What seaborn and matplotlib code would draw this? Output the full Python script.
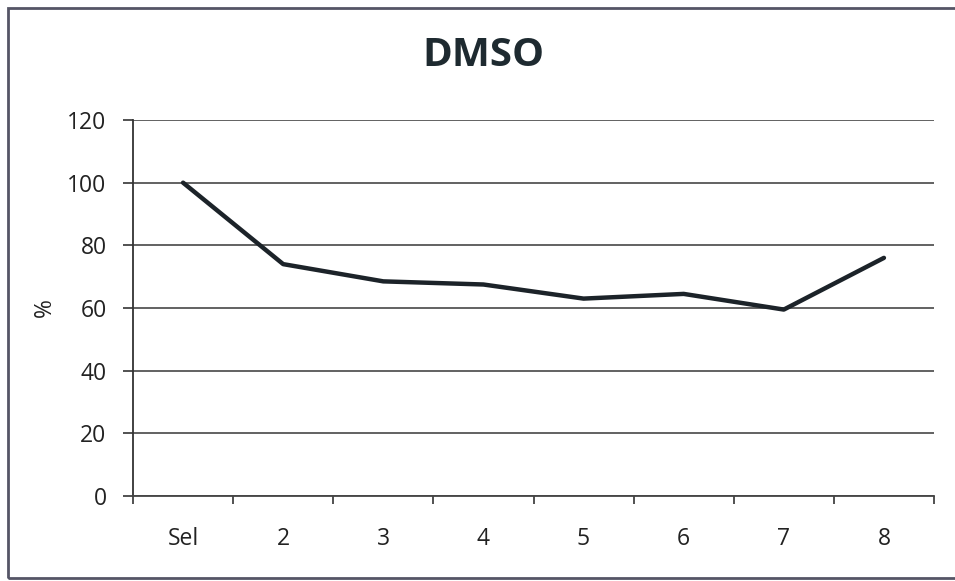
import matplotlib
matplotlib.use("Agg")
import matplotlib.pyplot as plt
import seaborn as sns
import pandas as pd
from matplotlib.patches import Rectangle
from matplotlib.ticker import FixedLocator

categories = ["Sel", "2", "3", "4", "5", "6", "7", "8"]
values = [100, 74, 68.5, 67.5, 63, 64.5, 59.5, 76]
yticks = [0, 20, 40, 60, 80, 100, 120]

sns.set_theme(style="white")
plt.rcParams['font.family'] = ['Open Sans', 'DejaVu Sans']

df = pd.DataFrame({"cat": categories, "val": values})

fig = plt.figure(figsize=(9.55, 5.81), dpi=100)
ax = fig.add_axes([133/955, 1-496/581, 801/955, 376/581])

sns.lineplot(data=df, x="cat", y="val", sort=False, ax=ax,
             color="#1c2329", linewidth=3.2)

ax.set_xlim(-0.5, len(categories) - 0.5)
ax.set_ylim(0, 120)
ax.set_yticks(yticks)
ax.set_yticklabels([str(v) for v in yticks], fontsize=16.5, color="#222222")
ax.set_xticks(range(len(categories)))
ax.set_xticklabels(categories, fontsize=16.5, color="#222222")
ax.xaxis.set_minor_locator(FixedLocator([i - 0.5 for i in range(len(categories) + 1)]))
ax.tick_params(axis="x", which="major", length=0, pad=22)
ax.tick_params(axis="x", which="minor", length=6, width=1.2, color="#333333", direction="out", bottom=True)
ax.tick_params(axis="y", which="major", length=7, width=1.2, color="#333333", direction="out", left=True, pad=12)

ax.grid(axis="y", color="#555555", linewidth=1.3)
ax.set_axisbelow(True)
for s in ["top", "right"]:
    ax.spines[s].set_visible(False)
ax.spines["left"].set_color("#333333")
ax.spines["left"].set_linewidth(1.3)
ax.spines["bottom"].set_color("#444444")
ax.spines["bottom"].set_linewidth(1.3)

ax.set_xlabel("")
ax.set_ylabel("%", fontsize=16.5, color="#222222")
ax.yaxis.set_label_coords(-0.095, 0.5)
fig.text(483/955, 1-56/581, "DMSO", ha="center", va="center",
         fontsize=29, fontweight="bold", color="#1e2a30")

fig.patches.append(Rectangle((8/955, 1-578/581), 960/955, 570/581,
                             transform=fig.transFigure, fill=False,
                             edgecolor="#555566", linewidth=2))

fig.savefig("out.png", dpi=100)
